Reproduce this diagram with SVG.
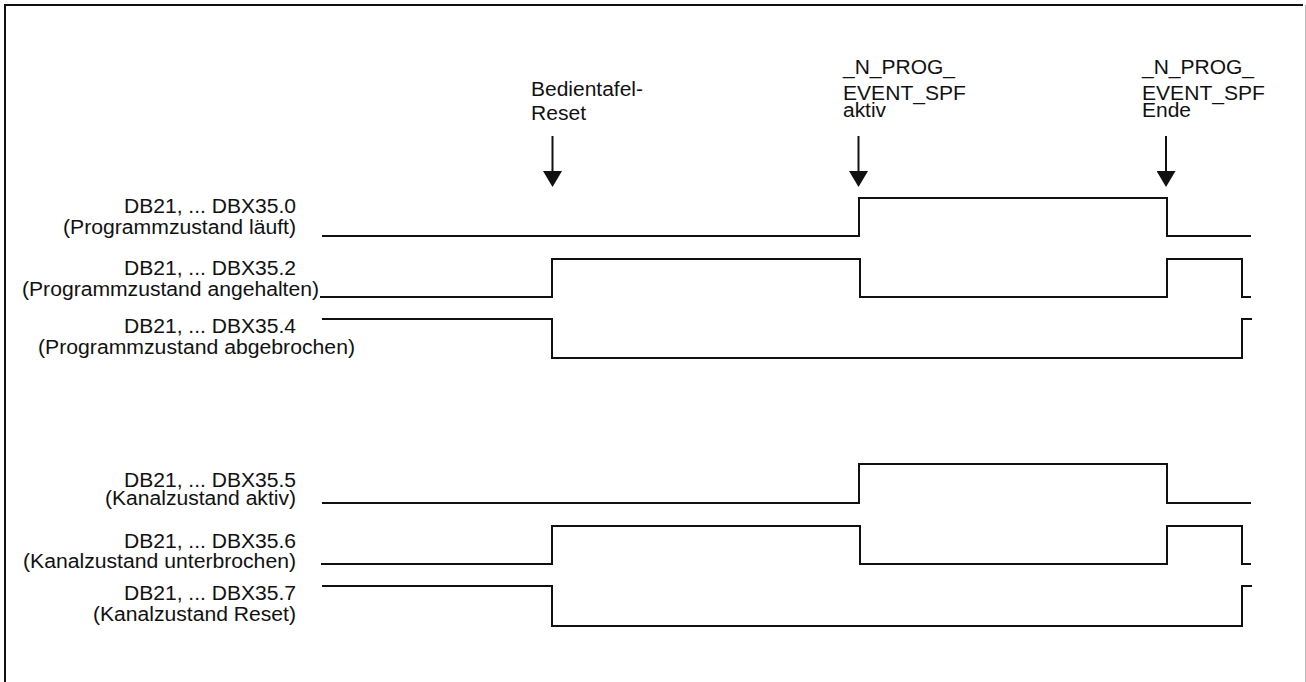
<svg xmlns="http://www.w3.org/2000/svg" width="1306" height="682" viewBox="0 0 1306 682">
  <style>
    .t { font-family: "Liberation Sans", Arial, sans-serif; font-size: 20px; fill: #111; }
    .w { fill: none; stroke: #111; stroke-width: 2; stroke-linejoin: miter; }
    .a { fill: none; stroke: #111; stroke-width: 2; }
  </style>
  <defs>
    <marker id="ah" viewBox="0 0 16 19" refX="0" refY="9.5" markerWidth="16" markerHeight="19" markerUnits="userSpaceOnUse" orient="auto">
      <path d="M0,0 L16,9.5 L0,19 z" fill="#111"/>
    </marker>
  </defs>
  <rect width="1306" height="682" fill="#fff"/>
  <g id="frame">
    <line x1="4" y1="5" x2="1303" y2="5" stroke="#111" stroke-width="2"/>
    <line x1="5" y1="4" x2="5" y2="682" stroke="#111" stroke-width="2"/>
    <line x1="1305.5" y1="5" x2="1305.5" y2="682" stroke="#bbb" stroke-width="1"/>
  </g>

  <g id="event-reset">
    <text class="t" x="531" y="96" textLength="112" lengthAdjust="spacingAndGlyphs">Bedientafel-</text>
    <text class="t" x="531" y="120" textLength="55" lengthAdjust="spacingAndGlyphs">Reset</text>
  </g>
  <g id="event-spf-aktiv">
    <text class="t" x="843" y="74" textLength="112" lengthAdjust="spacingAndGlyphs">_N_PROG_</text>
    <text class="t" x="843" y="100" textLength="123" lengthAdjust="spacingAndGlyphs">EVENT_SPF</text>
    <text class="t" x="843" y="117" textLength="43" lengthAdjust="spacingAndGlyphs">aktiv</text>
  </g>
  <g id="event-spf-ende">
    <text class="t" x="1142" y="74" textLength="112" lengthAdjust="spacingAndGlyphs">_N_PROG_</text>
    <text class="t" x="1142" y="100" textLength="123" lengthAdjust="spacingAndGlyphs">EVENT_SPF</text>
    <text class="t" x="1142" y="117" textLength="49" lengthAdjust="spacingAndGlyphs">Ende</text>
  </g>

  <g id="sig-35-0">
    <text class="t" x="124" y="213" textLength="172" lengthAdjust="spacingAndGlyphs">DB21, ... DBX35.0</text>
    <text class="t" x="63" y="234" textLength="233" lengthAdjust="spacingAndGlyphs">(Programmzustand läuft)</text>
    <path class="w" d="M322,236 H859 V198 H1167 V236 H1251"/>
  </g>
  <g id="sig-35-2">
    <text class="t" x="124" y="275" textLength="172" lengthAdjust="spacingAndGlyphs">DB21, ... DBX35.2</text>
    <text class="t" x="22" y="296" textLength="297" lengthAdjust="spacingAndGlyphs">(Programmzustand angehalten)</text>
    <path class="w" d="M320,297 H552 V259 H860 V297 H1167 V259 H1242 V297 H1251"/>
  </g>
  <g id="sig-35-4">
    <text class="t" x="124" y="333" textLength="172" lengthAdjust="spacingAndGlyphs">DB21, ... DBX35.4</text>
    <text class="t" x="38" y="354" textLength="317" lengthAdjust="spacingAndGlyphs">(Programmzustand abgebrochen)</text>
    <path class="w" d="M322,319 H552 V358 H1242 V319 H1252"/>
  </g>

  <g id="sig-35-5">
    <text class="t" x="124" y="487" textLength="172" lengthAdjust="spacingAndGlyphs">DB21, ... DBX35.5</text>
    <text class="t" x="105" y="505" textLength="191" lengthAdjust="spacingAndGlyphs">(Kanalzustand aktiv)</text>
    <path class="w" d="M322,503 H859 V464 H1167 V503 H1251"/>
  </g>
  <g id="sig-35-6">
    <text class="t" x="124" y="548" textLength="172" lengthAdjust="spacingAndGlyphs">DB21, ... DBX35.6</text>
    <text class="t" x="23" y="568" textLength="273" lengthAdjust="spacingAndGlyphs">(Kanalzustand unterbrochen)</text>
    <path class="w" d="M321,564 H552 V526 H860 V564 H1167 V526 H1242 V564 H1251"/>
  </g>
  <g id="sig-35-7">
    <text class="t" x="124" y="600" textLength="172" lengthAdjust="spacingAndGlyphs">DB21, ... DBX35.7</text>
    <text class="t" x="93" y="621" textLength="203" lengthAdjust="spacingAndGlyphs">(Kanalzustand Reset)</text>
    <path class="w" d="M322,586 H552 V626 H1242 V586 H1252"/>
  </g>

  <g id="connectors">
    <line class="a" x1="552.5" y1="136" x2="552.5" y2="171" marker-end="url(#ah)"/>
    <line class="a" x1="858.5" y1="136" x2="858.5" y2="171" marker-end="url(#ah)"/>
    <line class="a" x1="1166" y1="136" x2="1166" y2="171" marker-end="url(#ah)"/>
  </g>
</svg>
